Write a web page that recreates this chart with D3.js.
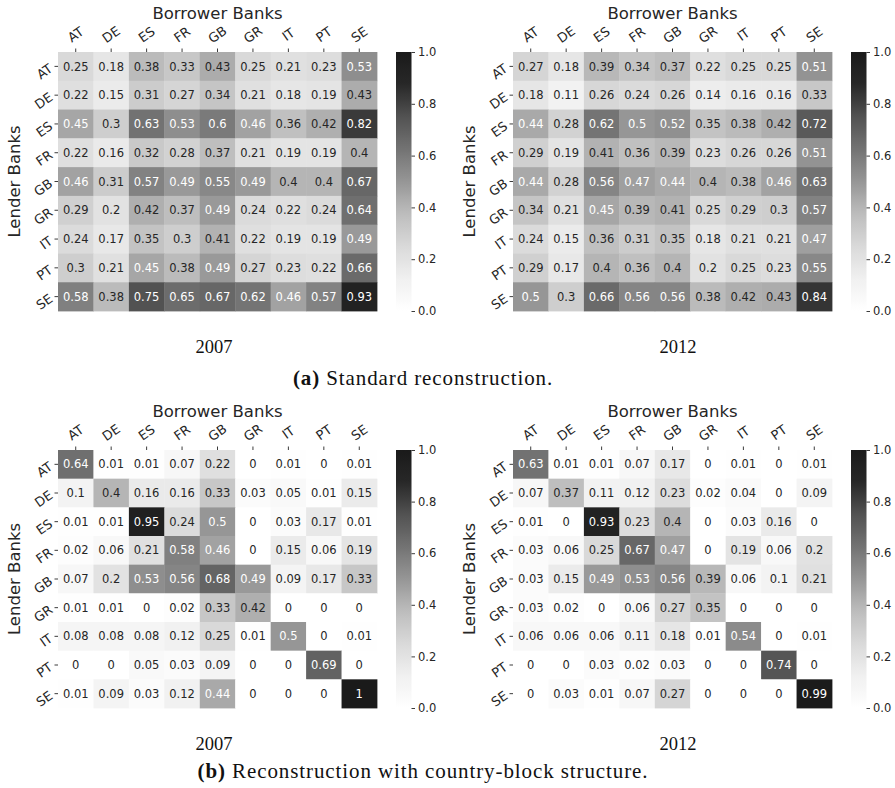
<!DOCTYPE html>
<html>
<head>
<meta charset="utf-8">
<script src="https://cdn.jsdelivr.net/npm/d3@7"></script>
<style>
  html, body { margin: 0; padding: 0; background: #ffffff; }
  svg { display: block; }
</style>
</head>
<body>
<svg id="chart" width="895" height="788"></svg>
<script>
// ---------------- DATA ----------------
const countries = ["AT", "DE", "ES", "FR", "GB", "GR", "IT", "PT", "SE"];
const xAxisTitle = "Borrower Banks";
const yAxisTitle = "Lender Banks";
const colorbarTicks = [0, 0.2, 0.4, 0.6, 0.8, 1.0];

// (a) Standard reconstruction, 2007 (rows: lender, cols: borrower)
const standard2007 = [
  [0.25, 0.18, 0.38, 0.33, 0.43, 0.25, 0.21, 0.23, 0.53],
  [0.22, 0.15, 0.31, 0.27, 0.34, 0.21, 0.18, 0.19, 0.43],
  [0.45, 0.3, 0.63, 0.53, 0.6, 0.46, 0.36, 0.42, 0.82],
  [0.22, 0.16, 0.32, 0.28, 0.37, 0.21, 0.19, 0.19, 0.4],
  [0.46, 0.31, 0.57, 0.49, 0.55, 0.49, 0.4, 0.4, 0.67],
  [0.29, 0.2, 0.42, 0.37, 0.49, 0.24, 0.22, 0.24, 0.64],
  [0.24, 0.17, 0.35, 0.3, 0.41, 0.22, 0.19, 0.19, 0.49],
  [0.3, 0.21, 0.45, 0.38, 0.49, 0.27, 0.23, 0.22, 0.66],
  [0.58, 0.38, 0.75, 0.65, 0.67, 0.62, 0.46, 0.57, 0.93]
];
// (a) Standard reconstruction, 2012
const standard2012 = [
  [0.27, 0.18, 0.39, 0.34, 0.37, 0.22, 0.25, 0.25, 0.51],
  [0.18, 0.11, 0.26, 0.24, 0.26, 0.14, 0.16, 0.16, 0.33],
  [0.44, 0.28, 0.62, 0.5, 0.52, 0.35, 0.38, 0.42, 0.72],
  [0.29, 0.19, 0.41, 0.36, 0.39, 0.23, 0.26, 0.26, 0.51],
  [0.44, 0.28, 0.56, 0.47, 0.44, 0.4, 0.38, 0.46, 0.63],
  [0.34, 0.21, 0.45, 0.39, 0.41, 0.25, 0.29, 0.3, 0.57],
  [0.24, 0.15, 0.36, 0.31, 0.35, 0.18, 0.21, 0.21, 0.47],
  [0.29, 0.17, 0.4, 0.36, 0.4, 0.2, 0.25, 0.23, 0.55],
  [0.5, 0.3, 0.66, 0.56, 0.56, 0.38, 0.42, 0.43, 0.84]
];
// (b) Country-block structure, 2007
const block2007 = [
  [0.64, 0.01, 0.01, 0.07, 0.22, 0, 0.01, 0, 0.01],
  [0.1, 0.4, 0.16, 0.16, 0.33, 0.03, 0.05, 0.01, 0.15],
  [0.01, 0.01, 0.95, 0.24, 0.5, 0, 0.03, 0.17, 0.01],
  [0.02, 0.06, 0.21, 0.58, 0.46, 0, 0.15, 0.06, 0.19],
  [0.07, 0.2, 0.53, 0.56, 0.68, 0.49, 0.09, 0.17, 0.33],
  [0.01, 0.01, 0, 0.02, 0.33, 0.42, 0, 0, 0],
  [0.08, 0.08, 0.08, 0.12, 0.25, 0.01, 0.5, 0, 0.01],
  [0, 0, 0.05, 0.03, 0.09, 0, 0, 0.69, 0],
  [0.01, 0.09, 0.03, 0.12, 0.44, 0, 0, 0, 1]
];
// (b) Country-block structure, 2012
const block2012 = [
  [0.63, 0.01, 0.01, 0.07, 0.17, 0, 0.01, 0, 0.01],
  [0.07, 0.37, 0.11, 0.12, 0.23, 0.02, 0.04, 0, 0.09],
  [0.01, 0, 0.93, 0.23, 0.4, 0, 0.03, 0.16, 0],
  [0.03, 0.06, 0.25, 0.67, 0.47, 0, 0.19, 0.06, 0.2],
  [0.03, 0.15, 0.49, 0.53, 0.56, 0.39, 0.06, 0.1, 0.21],
  [0.03, 0.02, 0, 0.06, 0.27, 0.35, 0, 0, 0],
  [0.06, 0.06, 0.06, 0.11, 0.18, 0.01, 0.54, 0, 0.01],
  [0, 0, 0.03, 0.02, 0.03, 0, 0, 0.74, 0],
  [0, 0.03, 0.01, 0.07, 0.27, 0, 0, 0, 0.99]
];
const panelYears = ["2007", "2012"];
const captionA = { label: "(a)", text: " Standard reconstruction." };
const captionB = { label: "(b)", text: " Reconstruction with country-block structure." };

// ---------------- LAYOUT / STYLE ----------------
const svg = d3.select("#chart");
const sans = "'DejaVu Sans', sans-serif";
const serif = "'Liberation Serif', 'DejaVu Serif', serif";
const darkText = "#262626";

// Greys colormap (matplotlib-like, linear segmented)
const greyStops = ["#ffffff", "#f0f0f0", "#d9d9d9", "#bdbdbd", "#969696", "#737373", "#525252", "#282828", "#1a1a1a"];
const color = d3.scaleLinear()
  .domain(d3.range(greyStops.length).map(i => i / (greyStops.length - 1)))
  .range(greyStops)
  .interpolate(d3.interpolateRgb)
  .clamp(true);

function luminance(c) {
  const rgb = d3.rgb(c);
  const f = v => { v /= 255; return v <= 0.03928 ? v / 12.92 : Math.pow((v + 0.055) / 1.055, 2.4); };
  return 0.2126 * f(rgb.r) + 0.7152 * f(rgb.g) + 0.0722 * f(rgb.b);
}
const fmt = v => String(+v.toFixed(2));

// gradient for colorbars
const defs = svg.append("defs");
const grad = defs.append("linearGradient").attr("id", "greysGrad")
  .attr("x1", 0).attr("y1", 1).attr("x2", 0).attr("y2", 0);
d3.range(0, 1.0001, 0.02).forEach(t => {
  grad.append("stop").attr("offset", t).attr("stop-color", color(t));
});

function drawHeatmap(data, x0, y0, w, h) {
  const g = svg.append("g");
  const x = d3.scaleBand().domain(countries).range([x0, x0 + w]);
  const y = d3.scaleBand().domain(countries).range([y0, y0 + h]);

  const cells = [];
  data.forEach((row, i) => row.forEach((v, j) => cells.push({ r: countries[i], c: countries[j], v })));

  g.selectAll("rect.cell").data(cells).enter().append("rect")
    .attr("class", "cell")
    .attr("x", d => x(d.c))
    .attr("y", d => y(d.r))
    .attr("width", x.bandwidth() + 0.4)
    .attr("height", y.bandwidth() + 0.4)
    .attr("fill", d => color(d.v));

  g.selectAll("text.annot").data(cells).enter().append("text")
    .attr("class", "annot")
    .attr("x", d => x(d.c) + x.bandwidth() / 2)
    .attr("y", d => y(d.r) + y.bandwidth() / 2)
    .attr("dy", "0.36em")
    .attr("text-anchor", "middle")
    .attr("font-family", sans)
    .attr("font-size", 11.5)
    .attr("fill", d => luminance(color(d.v)) < 0.408 ? "#ffffff" : darkText)
    .text(d => fmt(d.v));

  // top axis
  const xa = g.append("g").attr("transform", `translate(0,${y0})`)
    .call(d3.axisTop(x).tickSize(3.5).tickPadding(0));
  xa.select(".domain").remove();
  xa.selectAll(".tick line").attr("stroke", darkText).attr("stroke-width", 0.9);
  xa.selectAll(".tick text")
    .attr("font-family", sans).attr("font-size", 13).attr("fill", darkText)
    .attr("text-anchor", "middle")
    .attr("x", 0).attr("y", 0).attr("dy", "0.35em")
    .attr("transform", "translate(0,-17.5) rotate(-35)");

  // left axis
  const ya = g.append("g").attr("transform", `translate(${x0},0)`)
    .call(d3.axisLeft(y).tickSize(3.5).tickPadding(0));
  ya.select(".domain").remove();
  ya.selectAll(".tick line").attr("stroke", darkText).attr("stroke-width", 0.9);
  ya.selectAll(".tick text")
    .attr("font-family", sans).attr("font-size", 13).attr("fill", darkText)
    .attr("text-anchor", "end")
    .attr("x", 0).attr("y", 0).attr("dy", "0.35em")
    .attr("transform", "translate(-7,0.5) rotate(-35)");

  // axis titles
  g.append("text")
    .attr("x", x0 + w / 2).attr("y", y0 - 33)
    .attr("text-anchor", "middle")
    .attr("font-family", sans).attr("font-size", 16.5).attr("fill", darkText)
    .text(xAxisTitle);
  g.append("text")
    .attr("transform", `translate(${x0 - 38},${y0 + h / 2}) rotate(-90)`)
    .attr("text-anchor", "middle")
    .attr("font-family", sans).attr("font-size", 16.5).attr("fill", darkText)
    .text(yAxisTitle);

  // colorbar
  const cbx = x0 + w + 19, cbw = 15.5;
  const cy = d3.scaleLinear().domain([0, 1]).range([y0 + h, y0]);
  g.append("rect")
    .attr("x", cbx).attr("y", y0).attr("width", cbw).attr("height", h)
    .attr("fill", "url(#greysGrad)");
  const ca = g.append("g").attr("transform", `translate(${cbx + cbw},0)`)
    .call(d3.axisRight(cy).tickValues(colorbarTicks).tickFormat(d3.format(".1f")).tickSize(3.5).tickPadding(3));
  ca.select(".domain").remove();
  ca.selectAll(".tick line").attr("stroke", darkText).attr("stroke-width", 0.9);
  ca.selectAll(".tick text").attr("font-family", sans).attr("font-size", 11.5).attr("fill", darkText);
}

const W = 319, H = 259;
drawHeatmap(standard2007, 58, 52, W, H);
drawHeatmap(standard2012, 513, 52, W, H);
drawHeatmap(block2007, 58, 450, W, 258);
drawHeatmap(block2012, 513, 450, W, 258);

// year labels
[[214, 353], [678, 353], [214, 750], [678, 750]].forEach((p, i) => {
  svg.append("text")
    .attr("x", p[0]).attr("y", p[1])
    .attr("text-anchor", "middle")
    .attr("font-family", serif).attr("font-size", 18.5).attr("fill", "#111")
    .text(panelYears[i % 2]);
});

function caption(cap, cx, yb) {
  const t = svg.append("text")
    .attr("x", cx).attr("y", yb)
    .attr("text-anchor", "middle")
    .attr("font-family", serif).attr("font-size", 21).attr("letter-spacing", 0.9).attr("fill", "#111");
  t.append("tspan").attr("font-weight", "bold").text(cap.label);
  t.append("tspan").text(cap.text);
}
caption(captionA, 423, 385);
caption(captionB, 423, 778);
</script>
</body>
</html>
